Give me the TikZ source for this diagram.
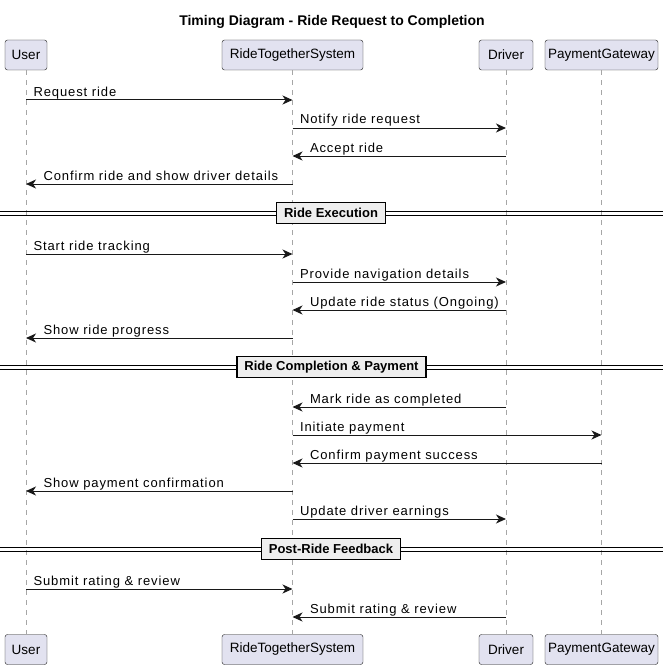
\documentclass[tikz,border=0pt]{standalone}
\usepackage{fontspec}
\setmainfont{Liberation Sans}
\newfontfamily\msgfont[LetterSpace=7]{Liberation Sans}
\usetikzlibrary{arrows.meta,positioning,calc}

\definecolor{partfill}{HTML}{E2E2F0}
\definecolor{linecol}{HTML}{181818}
\definecolor{sepfill}{HTML}{EEEEEE}

\tikzset{
  part/.style={draw=linecol, fill=partfill, rounded corners=2.5pt, minimum height=30pt, inner sep=0pt, font=\fontsize{13.5}{16}\selectfont},
  life/.style={draw=gray!70, dash pattern=on 5pt off 5pt, line width=0.8pt},
  msg/.style={draw=linecol, line width=1pt, -{Stealth[length=10pt,width=9pt,inset=3pt]}},
  lblR/.style={font=\msgfont\fontsize{13}{15}\selectfont, inner sep=0pt, anchor=base west, pos=0, xshift=7pt, yshift=4pt},
  lblL/.style={font=\msgfont\fontsize{13}{15}\selectfont, inner sep=0pt, anchor=base west, pos=1, xshift=17pt, yshift=4pt},
  sep/.style={draw=black, fill=sepfill, line width=1.6pt, font=\bfseries\fontsize{13}{15}\selectfont, minimum height=21pt, inner xsep=7.5pt, inner ysep=2pt},
  sepline/.style={draw=black, line width=0.9pt},
}

\begin{document}
\begin{tikzpicture}[x=1pt, y=-1pt]
        \useasboundingbox (0,0) rectangle (670,669);
        \node[font=\bfseries\fontsize{14}{16}\selectfont] (title) at (332,22) {Timing Diagram - Ride Request to Completion};

        % participants
        \node[part, minimum width=42pt] (uT) at (26,55) {User};
        \node[part, minimum width=141pt] (sT) at (292.5,55) {RideTogetherSystem};
        \node[part, minimum width=54pt] (dT) at (506,55) {Driver};
        \node[part, minimum width=113pt] (pT) at (601.5,55) {PaymentGateway};
        \node[part, minimum width=42pt] (uB) at (26,649.5) {User};
        \node[part, minimum width=141pt] (sB) at (292.5,649.5) {RideTogetherSystem};
        \node[part, minimum width=54pt] (dB) at (506,649.5) {Driver};
        \node[part, minimum width=113pt] (pB) at (601.5,649.5) {PaymentGateway};

        % lifelines
        \draw[life] (uT.south) -- (uB.north);
        \draw[life] (sT.south) -- (sB.north);
        \draw[life] (dT.south) -- (dB.north);
        \draw[life] (pT.south) -- (pB.north);

        % request
        \draw[msg] (uT |- 0,100) -- node[lblR]{Request ride} (sT |- 0,100);
        \draw[msg] (sT |- 0,128) -- node[lblR]{Notify ride request} (dT |- 0,128);
        \draw[msg] (dT |- 0,156) -- node[lblL]{Accept ride} (sT |- 0,156);
        \draw[msg] (sT |- 0,184) -- node[lblL]{Confirm ride and show driver details} (uT |- 0,184);

        \draw[sepline] (0,211) -- (663,211) (0,215) -- (663,215);
        \node[sep] (exec) at (331,213) {Ride Execution};

        \draw[msg] (uT |- 0,254) -- node[lblR]{Start ride tracking} (sT |- 0,254);
        \draw[msg] (sT |- 0,282) -- node[lblR]{Provide navigation details} (dT |- 0,282);
        \draw[msg] (dT |- 0,310) -- node[lblL]{Update ride status (Ongoing)} (sT |- 0,310);
        \draw[msg] (sT |- 0,338) -- node[lblL]{Show ride progress} (uT |- 0,338);

        \draw[sepline] (0,365) -- (663,365) (0,369) -- (663,369);
        \node[sep] (pay) at (331.5,367) {Ride Completion \& Payment};

        \draw[msg] (dT |- 0,407) -- node[lblL]{Mark ride as completed} (sT |- 0,407);
        \draw[msg] (sT |- 0,435) -- node[lblR]{Initiate payment} (pT |- 0,435);
        \draw[msg] (pT |- 0,463) -- node[lblL]{Confirm payment success} (sT |- 0,463);
        \draw[msg] (sT |- 0,491) -- node[lblL]{Show payment confirmation} (uT |- 0,491);
        \draw[msg] (sT |- 0,519) -- node[lblR]{Update driver earnings} (dT |- 0,519);

        \draw[sepline] (0,547) -- (663,547) (0,551) -- (663,551);
        \node[sep] (feed) at (331,549) {Post-Ride Feedback};

        \draw[msg] (uT |- 0,589) -- node[lblR]{Submit rating \& review} (sT |- 0,589);
        \draw[msg] (dT |- 0,617) -- node[lblL]{Submit rating \& review} (sT |- 0,617);
\end{tikzpicture}
\end{document}
